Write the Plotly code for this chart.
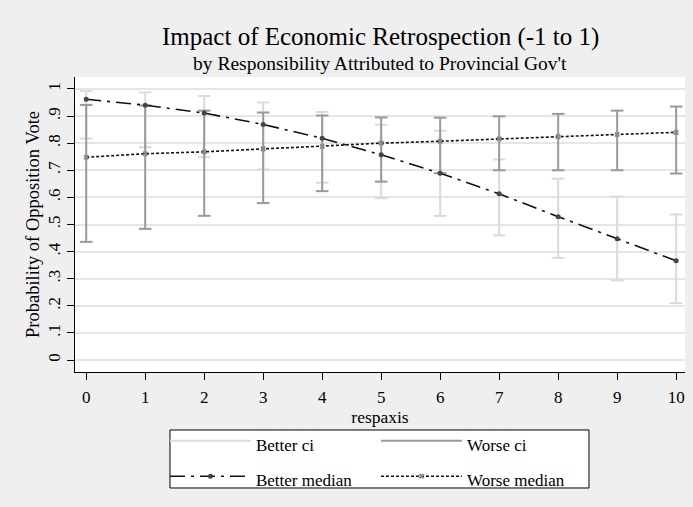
import plotly.graph_objects as go

resp = [0, 1, 2, 3, 4, 5, 6, 7, 8, 9, 10]
better_median = [0.962, 0.940, 0.911, 0.869, 0.818, 0.757, 0.689, 0.613, 0.529, 0.447, 0.366]
better_lo = [0.817, 0.785, 0.748, 0.703, 0.654, 0.597, 0.532, 0.460, 0.377, 0.294, 0.210]
better_hi = [0.992, 0.987, 0.974, 0.950, 0.915, 0.868, 0.846, 0.740, 0.669, 0.603, 0.537]
worse_median = [0.748, 0.761, 0.768, 0.779, 0.788, 0.800, 0.807, 0.816, 0.824, 0.832, 0.840]
worse_lo = [0.436, 0.484, 0.532, 0.579, 0.623, 0.658, 0.689, 0.700, 0.700, 0.700, 0.688]
worse_hi = [0.941, 0.939, 0.920, 0.913, 0.902, 0.895, 0.894, 0.899, 0.908, 0.920, 0.935]
y_ticks = [0, 0.1, 0.2, 0.3, 0.4, 0.5, 0.6, 0.7, 0.8, 0.9, 1]
y_ticklabels = ["0", ".1", ".2", ".3", ".4", ".5", ".6", ".7", ".8", ".9", "1"]

FONT = "Liberation Serif"
BETTER_CI = "#dadada"
WORSE_CI = "#999999"


def segs(xs, lo, hi):
    sx, sy = [], []
    for x, a, b in zip(xs, lo, hi):
        sx += [x, x, None]
        sy += [a, b, None]
    return sx, sy


def lbl(t):
    return "<span style='font-size:17px'>" + t + "</span>"


fig = go.Figure()

for name, lo, hi, col, grp in [("Better ci", better_lo, better_hi, BETTER_CI, "better"),
                               ("Worse ci", worse_lo, worse_hi, WORSE_CI, "worse")]:
    sx, sy = segs(resp, lo, hi)
    fig.add_trace(go.Scatter(x=sx, y=sy, mode="lines", name=lbl(name), legendgroup=grp,
                             line=dict(color=col, width=2)))
    fig.add_trace(go.Scatter(x=resp + resp, y=lo + hi, mode="markers", showlegend=False,
                             legendgroup=grp,
                             marker=dict(symbol="line-ew", size=9,
                                         line=dict(color=col, width=2)),
                             hoverinfo="skip"))

fig.add_trace(go.Scatter(x=resp, y=better_median, mode="lines+markers", name=lbl("Better median"),
                         legendgroup="better",
                         line=dict(color="#111111", width=1.6, dash="longdashdot"),
                         marker=dict(symbol="circle", size=5, color="#444444")))
fig.add_trace(go.Scatter(x=resp, y=worse_median, mode="lines+markers", name=lbl("Worse median"),
                         legendgroup="worse",
                         line=dict(color="#111111", width=1.6, dash="3px,2px"),
                         marker=dict(symbol="x", size=5, color="#888888")))

fig.update_layout(
    width=693, height=507,
    margin=dict(l=75, r=8, t=77, b=135),
    paper_bgcolor="#efefef", plot_bgcolor="white",
    font=dict(family=FONT, size=17, color="black"),
    annotations=[
        dict(text="Impact of Economic Retrospection (-1 to 1)", xref="paper", yref="paper",
             x=0.5, y=1.1356, xanchor="center", yanchor="middle", showarrow=False,
             font=dict(size=25, family=FONT)),
        dict(text="by Responsibility Attributed to Provincial Gov't", xref="paper", yref="paper",
             x=0.5, y=1.047, xanchor="center", yanchor="middle", showarrow=False,
             font=dict(size=19.5, family=FONT)),
    ],
    shapes=[
        dict(type="rect", xref="paper", yref="paper", x0=0.1557, x1=0.8426, y0=-0.3932, y1=-0.1966,
             fillcolor="white", line=dict(color="black", width=1), layer="above"),
    ],
    xaxis=dict(range=[-0.19, 10.15], tickmode="array", tickvals=resp, automargin=False,
               ticks="outside", ticklen=7, tickcolor="black", showline=True, linecolor="black",
               linewidth=1, showgrid=False, zeroline=False, mirror=False,
               tickfont=dict(size=17), ticklabelstandoff=3,
               title=dict(text="respaxis", standoff=0, font=dict(size=17.5))),
    yaxis=dict(range=[-0.044, 1.044], tickmode="array", tickvals=y_ticks, ticktext=y_ticklabels,
               tickangle=-90, ticks="outside", ticklen=7, tickcolor="black", showline=True,
               automargin=False, tickfont=dict(size=17),
               linecolor="black", linewidth=1, showgrid=True, gridcolor="#e6e6e6", gridwidth=1.5,
               zeroline=False, title=dict(text="Probability of Opposition Vote", standoff=0,
                                          font=dict(size=18.5))),
    legend=dict(orientation="h", x=0.1475, xanchor="left", y=-0.156, yanchor="top",
                bgcolor="rgba(0,0,0,0)", borderwidth=0,
                traceorder="grouped", tracegroupgap=10, itemwidth=81,
                entrywidth=115, entrywidthmode="pixels", font=dict(size=25)),
    showlegend=True,
)

fig.write_html("out.html", config={"displayModeBar": False},
               post_script="document.body.style.margin='0px';")
